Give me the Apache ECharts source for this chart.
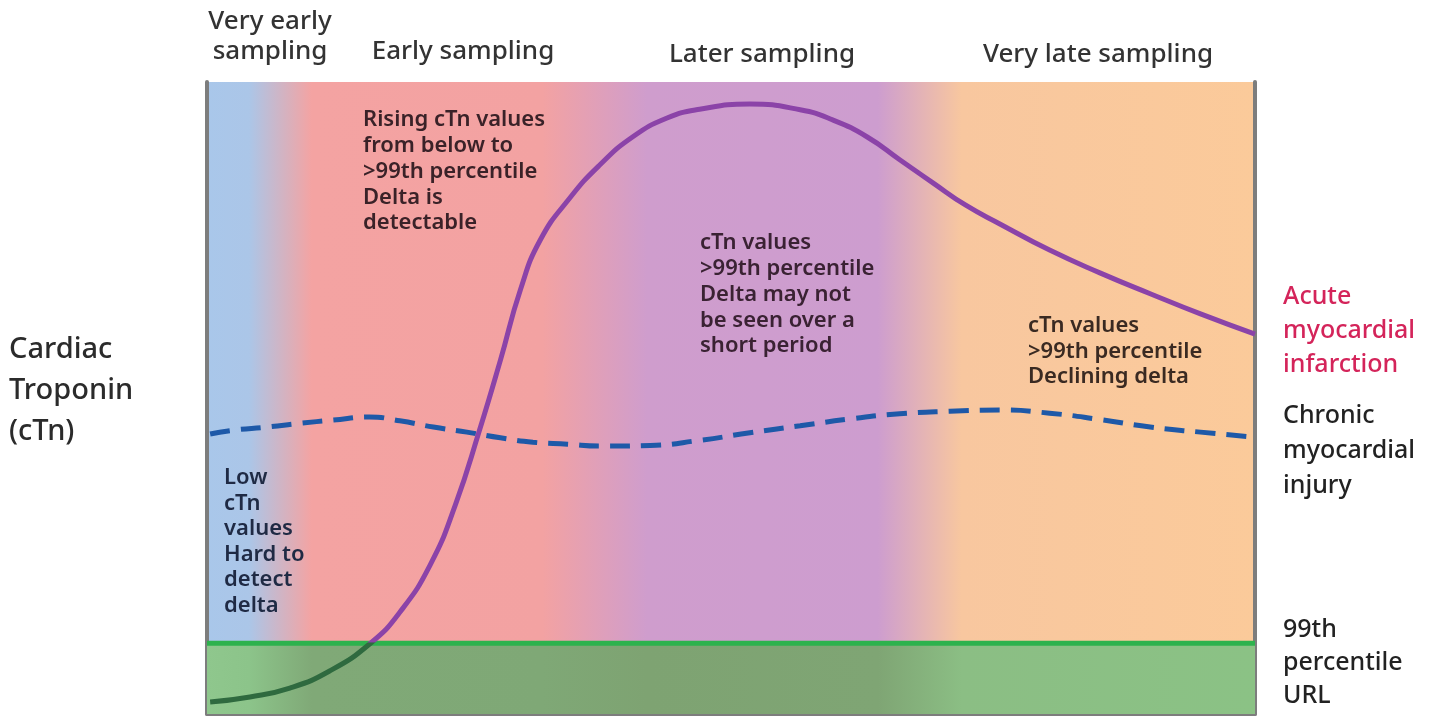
<!DOCTYPE html>
<html>
<head>
<meta charset="utf-8">
<script src="https://cdn.jsdelivr.net/npm/echarts@6/dist/echarts.min.js"></script>
<style>
html,body{margin:0;padding:0;background:#fff;}
#chart{width:1436px;height:717px;}
</style>
</head>
<body>
<div id="chart"></div>
<script>
// Time axis (0-100, arbitrary units) and cTn level (0-100, arbitrary units)
var amiX = [0.3, 4.1, 7.9, 11.7, 15.6, 18.4, 21.3, 23.7, 26.0, 28.0, 29.9, 31.8, 34.6, 37.5, 40.6, 43.9, 47.0, 51.8, 56.6, 59.7, 63.0, 66.1, 69.3, 72.4, 75.7, 80.4, 85.2, 90.0, 94.8, 100];
var amiY = [1.9, 2.7, 4.1, 6.8, 11.2, 16.1, 23.6, 33.1, 44.9, 56.0, 67.1, 75.0, 81.6, 86.9, 91.3, 94.3, 95.7, 96.5, 95.6, 94.0, 91.3, 87.7, 84.0, 80.5, 77.5, 73.4, 69.8, 66.5, 63.3, 60.1];
var chronicX = [0.3, 2.5, 5.7, 8.9, 12.0, 15.5, 18.4, 21.6, 24.8, 28.0, 31.1, 34.4, 37.5, 42.3, 47.0, 51.8, 56.6, 61.4, 66.1, 70.9, 75.7, 80.4, 85.2, 90.0, 94.8, 100];
var chronicY = [44.3, 44.9, 45.4, 46.0, 46.5, 47.0, 46.4, 45.4, 44.6, 43.7, 43.0, 42.7, 42.4, 42.5, 43.3, 44.5, 45.6, 46.7, 47.5, 47.9, 48.1, 47.6, 46.6, 45.4, 44.6, 43.8];
var urlLevel = 11.2;
var urlX = [0, 100];

var phaseLabels = ['Very early\nsampling', 'Early sampling', 'Later sampling', 'Very late sampling'];
var yAxisLabel = 'Cardiac\nTroponin\n(cTn)';
var rightLabels = ['Acute\nmyocardial\ninfarction', 'Chronic\nmyocardial\ninjury', '99th\npercentile\nURL'];
var noteTexts = [
  'Low\ncTn\nvalues\nHard to\ndetect\ndelta',
  'Rising cTn values\nfrom below to\n>99th percentile\nDelta is\ndetectable',
  'cTn values\n>99th percentile\nDelta may not\nbe seen over a\nshort period',
  'cTn values\n>99th percentile\nDeclining delta'
];

function pairs(xs, ys) { return xs.map(function (x, i) { return [x, ys[i]]; }); }

var chart = echarts.init(document.getElementById('chart'));
var FONT = '"Noto Sans", "DejaVu Sans", sans-serif';

function txt(text, x, y, size, lh, color, align, weight) {
  return {
    type: 'text', x: x, y: y, z: 100,
    style: {
      text: text, fontSize: size, fontFamily: FONT, fill: color,
      fontWeight: weight || 'normal',
      lineHeight: lh, align: align || 'left', textAlign: align || 'left',
      verticalAlign: 'top', textVerticalAlign: 'top'
    }
  };
}

var bg = new echarts.graphic.LinearGradient(0, 0, 1, 0, [
  { offset: 0.0, color: '#a9c7ea' },
  { offset: 0.04, color: '#abc6e8' },
  { offset: 0.10, color: '#f4a3a2' },
  { offset: 0.32, color: '#f3a2a2' },
  { offset: 0.42, color: '#cf9dcd' },
  { offset: 0.64, color: '#cd9dcf' },
  { offset: 0.72, color: '#f8c79f' },
  { offset: 1.0, color: '#fbca9a' }
]);
var greenFill = new echarts.graphic.LinearGradient(0, 0, 1, 0, [
  { offset: 0.0, color: '#8fc78d' },
  { offset: 0.04, color: '#8cc48a' },
  { offset: 0.10, color: '#80a977' },
  { offset: 0.32, color: '#7fa876' },
  { offset: 0.42, color: '#7ea372' },
  { offset: 0.64, color: '#7fa574' },
  { offset: 0.72, color: '#8bbe84' },
  { offset: 1.0, color: '#8bc285' }
]);
// purple above the URL line, dark green where it passes under the green band (global pixel coords)
var amiColor = new echarts.graphic.LinearGradient(0, 0, 0, 717, [
  { offset: 0, color: '#8b43a8' },
  { offset: 0.895, color: '#8b43a8' },
  { offset: 0.897, color: '#2f6a3f' },
  { offset: 1, color: '#2f6a3f' }
], true);

chart.setOption({
  animation: false,
  grid: {
    left: 207, right: 181, top: 82, bottom: 3,
    show: true, backgroundColor: bg, borderWidth: 0
  },
  xAxis: {
    type: 'value', min: 0, max: 100,
    axisLine: { show: true, onZero: false, lineStyle: { color: '#7d7d7d', width: 4 } },
    axisTick: { show: false }, axisLabel: { show: false }, splitLine: { show: false }
  },
  yAxis: [{
    type: 'value', min: 0, max: 100, position: 'left',
    axisLine: { show: true, onZero: false, lineStyle: { color: '#7d7d7d', width: 4 } },
    axisTick: { show: false }, axisLabel: { show: false }, splitLine: { show: false }
  }, {
    type: 'value', min: 0, max: 100, position: 'right',
    axisLine: { show: true, onZero: false, lineStyle: { color: '#7d7d7d', width: 4 } },
    axisTick: { show: false }, axisLabel: { show: false }, splitLine: { show: false }
  }],
  series: [{
    type: 'line', name: '99th percentile URL',
    data: urlX.map(function (x) { return [x, urlLevel]; }),
    symbol: 'none',
    lineStyle: { color: '#2db24d', width: 5 },
    areaStyle: { color: greenFill, opacity: 1, origin: 'start' },
    z: 2
  }, {
    type: 'line', name: 'Chronic myocardial injury',
    data: pairs(chronicX, chronicY),
    smooth: true, symbol: 'none',
    lineStyle: { color: '#1e59a8', width: 5, type: [20, 11] },
    z: 3
  }, {
    type: 'line', name: 'Acute myocardial infarction',
    data: pairs(amiX, amiY),
    smooth: true, symbol: 'none',
    lineStyle: { color: amiColor, width: 5 },
    z: 4
  }],
  graphic: [
    txt(phaseLabels[0], 270, 7, 26, 30, '#333333', 'center', 500),
    txt(phaseLabels[1], 463, 37, 26, 30, '#333333', 'center', 500),
    txt(phaseLabels[2], 762, 40, 26, 30, '#333333', 'center', 500),
    txt(phaseLabels[3], 1098, 40, 26, 30, '#333333', 'center', 500),
    txt(yAxisLabel, 9, 329, 29, 41, '#2b2b2b', 'left', 500),
    txt(rightLabels[0], 1283, 280, 25, 34, '#d4245a', 'left', 500),
    txt(rightLabels[1], 1283, 398, 25, 35, '#222222', 'left', 500),
    txt(rightLabels[2], 1283, 613, 25, 33, '#222222', 'left', 500),
    txt(noteTexts[0], 224, 465, 22, 25.6, '#1f2a44', 'left', 600),
    txt(noteTexts[1], 363, 107, 22, 25.8, '#3a2228', 'left', 600),
    txt(noteTexts[2], 700, 230, 22, 25.8, '#3a2233', 'left', 600),
    txt(noteTexts[3], 1028, 313, 22, 25.6, '#3a2a22', 'left', 600)
  ]
});
</script>
</body>
</html>
